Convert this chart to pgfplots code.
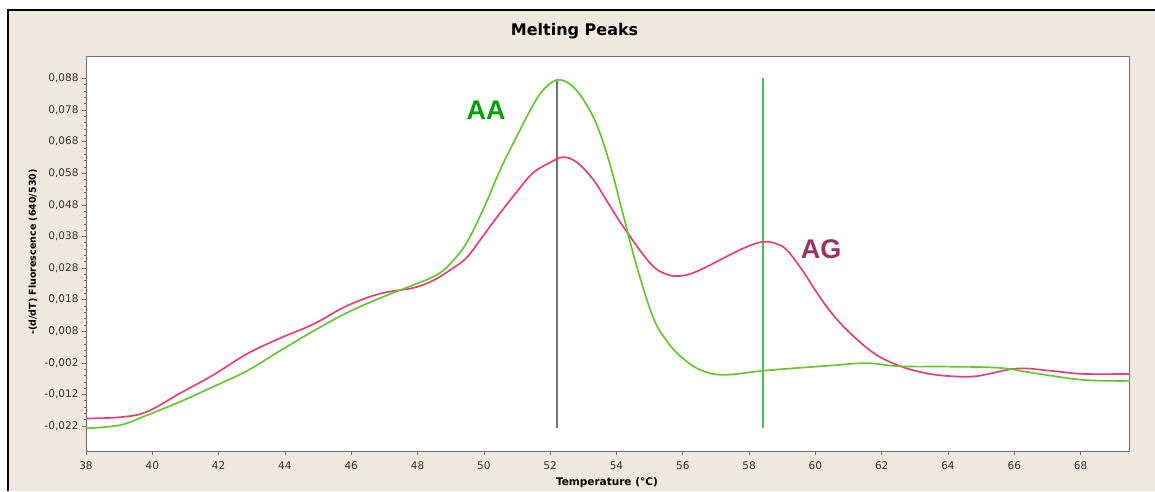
\documentclass[border=0pt]{standalone}
\usepackage{fontspec}
\setmainfont{DejaVu Sans}
\newfontfamily\lib{Liberation Sans}
\usepackage{pgfplots}
\pgfplotsset{compat=1.18}
\definecolor{bg}{RGB}{239,232,223}
\definecolor{aagreen}{RGB}{104,198,52}
\definecolor{agred}{RGB}{226,66,118}
\definecolor{aatext}{RGB}{0,160,0}
\definecolor{agtext}{RGB}{153,51,102}
\definecolor{vgreen}{RGB}{85,180,100}
\definecolor{axgray}{RGB}{110,110,110}
\begin{document}
\begin{tikzpicture}[x=1pt,y=1pt]
\path[use as bounding box] (0,0) rectangle (1155,491);
\fill[white] (0,0) rectangle (1155,491);
\fill[bg] (8,0) rectangle (1155,481);
\draw[black, line width=1.5pt] (8,0) -- (8,481) -- (1155,481);
\begin{axis}[
  at={(86pt,40pt)}, anchor=south west,
  scale only axis, width=1044pt, height=394pt,
  xmin=38, xmax=69.49, ymin=-0.0299, ymax=0.0948,
  axis background/.style={fill=white},
  axis line style={draw=axgray, line width=1pt},
  tick align=outside, xtick pos=bottom, ytick pos=left,
  major tick length=4pt, minor tick length=2.5pt,
  tick style={draw=axgray, line width=0.6pt},
  xtick={38,40,...,68},
  scaled y ticks=false,
  ytick={-0.022,-0.012,-0.002,0.008,0.018,0.028,0.038,0.048,0.058,0.068,0.078,0.088},
  yticklabels={{-0,022},{-0,012},{-0,002},{0,008},{0,018},{0,028},{0,038},{0,048},{0,058},{0,068},{0,078},{0,088}},
  minor y tick num=4,
  /pgf/number format/assume math mode=true,
  ticklabel style={font=\fontsize{10.5}{12}\selectfont, text=black!80},
  xticklabel style={yshift=-3pt},
  title={Melting Peaks},
  title style={font=\fontsize{16}{18}\selectfont\bfseries, at={(axis description cs:0.468,1.0508)}, anchor=center, yshift=0pt},
  xlabel={Temperature (°C)},
  xlabel style={font=\fontsize{10.5}{12}\selectfont\bfseries, at={(axis description cs:0.499,-0.081)}, anchor=center},
  ylabel={-(d/dT) Fluorescence (640/530)},
  ylabel style={font=\fontsize{9.5}{11}\selectfont\bfseries, at={(axis description cs:-0.0508,0.505)}, anchor=center},
  clip=true,
]
% vertical marker lines
\addplot[color=gray!90!black, line width=1.6pt] coordinates {(52.2,-0.0227) (52.2,0.0878)};
\addplot[color=vgreen, line width=2.2pt] coordinates {(58.43,-0.0227) (58.43,0.0881)};
% AG (red)
\addplot[color=agred, line width=1.7pt, smooth, tension=0.6] coordinates {
(38.00,-0.0196) (39.03,-0.0192) (39.83,-0.0175) (40.84,-0.0116) (41.83,-0.0059)
(42.85,0.0008) (43.85,0.0058) (44.85,0.0102) (45.86,0.0160) (46.87,0.0199)
(47.86,0.0217) (48.46,0.0240) (49.0,0.0275) (49.48,0.0313) (50.0,0.0385) (50.49,0.0454)
(51.0,0.0522) (51.48,0.0581) (52.0,0.0614) (52.39,0.0631) (52.8,0.0615)
(53.3,0.0560) (53.7,0.0494) (54.2,0.0412) (55.01,0.0296) (55.52,0.0260) (56.0,0.0256)
(56.52,0.0274) (57.52,0.0327) (58.0,0.0350) (58.42,0.0363) (58.8,0.0358)
(59.14,0.0337) (59.6,0.0274) (60.04,0.0203) (60.5,0.0136) (61.05,0.0074)
(61.8,0.0008) (62.55,-0.0030) (63.3,-0.0052) (64.06,-0.0062) (64.87,-0.0062)
(66.07,-0.0038) (67.08,-0.0045) (68.08,-0.0055) (69.49,-0.0055)
};
% AA (green)
\addplot[color=aagreen, line width=1.7pt, smooth, tension=0.6] coordinates {
(38.00,-0.0227) (39.03,-0.0217) (39.83,-0.0186) (40.84,-0.0143) (41.83,-0.0096)
(42.85,-0.0046) (43.85,0.0018) (44.85,0.0080) (45.86,0.0138) (46.87,0.0185)
(47.86,0.0226) (48.58,0.0258) (49.0,0.0295) (49.48,0.0360) (50.0,0.0470)
(50.49,0.0590) (51.0,0.0698) (51.48,0.0795) (51.8,0.0845) (52.2,0.0875)
(52.6,0.0862) (52.99,0.0815) (53.4,0.0735) (53.8,0.0610) (54.2,0.0450) (54.6,0.0290)
(55.1,0.0125) (55.5,0.0052) (55.92,0.0002) (56.52,-0.0042) (57.22,-0.0058)
(58.42,-0.0045) (59.5,-0.0036) (60.53,-0.0028) (61.55,-0.0021) (62.55,-0.0031)
(64.06,-0.0032) (65.57,-0.0036) (66.57,-0.0052) (68.08,-0.0074) (69.49,-0.0077)
};
\node[text=aatext, font=\lib\fontsize{27}{30}\selectfont\bfseries] at (axis cs:50.07,0.0780) {AA};
\node[text=agtext, font=\lib\fontsize{27}{30}\selectfont\bfseries] at (axis cs:60.17,0.0340) {AG};
\end{axis}
\end{tikzpicture}
\end{document}
